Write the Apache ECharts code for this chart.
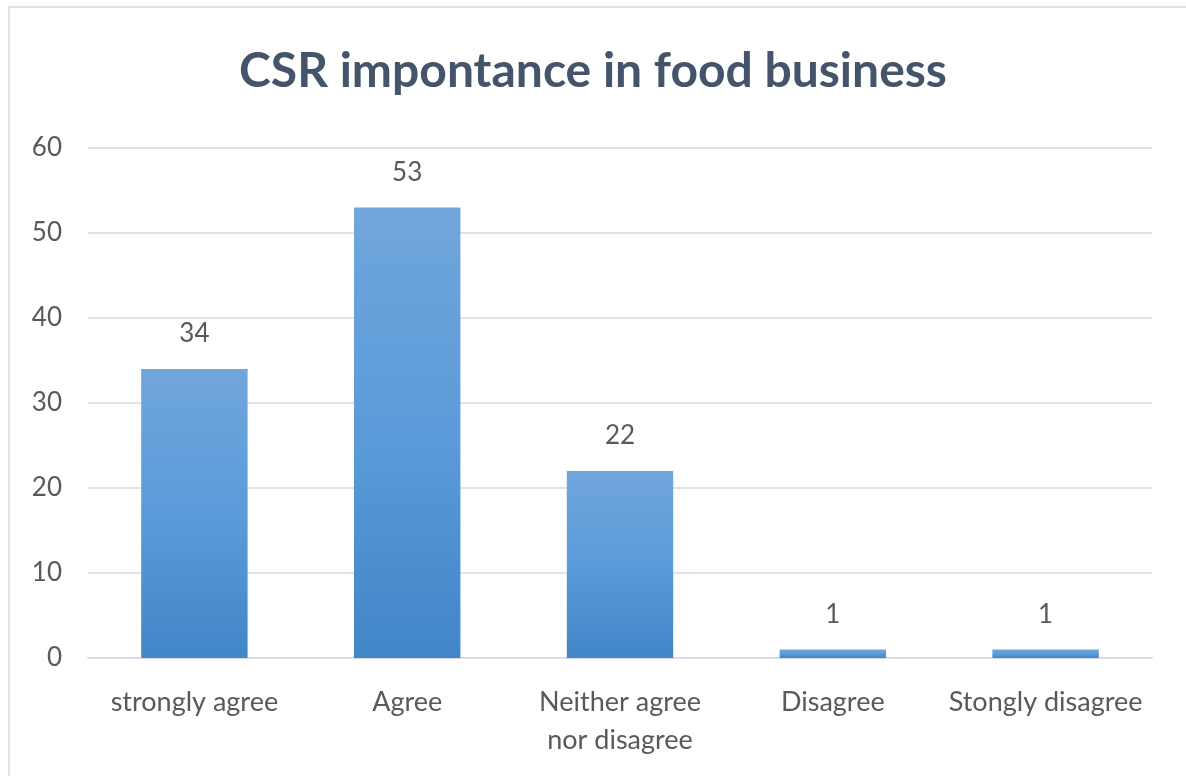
<!DOCTYPE html>
<html>
<head>
<meta charset="utf-8">
<script src="https://cdn.jsdelivr.net/npm/echarts@6/dist/echarts.min.js"></script>
<style>
  html, body { margin: 0; padding: 0; background: #ffffff; }
  #frame { position: absolute; left: 8px; top: 6px; width: 1190px; height: 780px; border: 2px solid #dfe3ea; box-sizing: border-box; }
  #chart { position: absolute; left: 0; top: 0; width: 1186px; height: 776px; }
</style>
</head>
<body>
<div id="frame"></div>
<div id="chart"></div>
<script>
// Survey answers and their counts
const categories = ['strongly agree', 'Agree', 'Neither agree\nnor disagree', 'Disagree', 'Stongly disagree'];
const counts = [34, 53, 22, 1, 1];
const yTicks = { min: 0, max: 60, interval: 10 };
const titleText = 'CSR impontance in food business';

const chart = echarts.init(document.getElementById('chart'), null, { renderer: 'canvas' });
const font = 'Lato, "Open Sans", "Noto Sans", sans-serif';

chart.setOption({
  animation: false,
  title: {
    text: titleText,
    left: 'center',
    top: 43,
    textStyle: { fontFamily: font, fontSize: 48, fontWeight: 'bold', color: '#44546a' }
  },
  grid: { left: 88, right: 34, top: 148, bottom: 118, containLabel: false },
  xAxis: {
    type: 'category',
    data: categories,
    axisLine: { lineStyle: { color: '#d9dde3', width: 2 } },
    axisTick: { show: false },
    axisLabel: { fontFamily: font, fontSize: 27, color: '#595959', margin: 25, lineHeight: 38, interval: 0 }
  },
  yAxis: {
    type: 'value',
    min: yTicks.min,
    max: yTicks.max,
    interval: yTicks.interval,
    axisLine: { show: false },
    axisTick: { show: false },
    splitLine: { lineStyle: { color: '#dfe3ea', width: 2 } },
    axisLabel: { fontFamily: font, fontSize: 26, color: '#595959', margin: 26 }
  },
  series: [{
    type: 'bar',
    data: counts,
    barWidth: '50%',
    itemStyle: {
      color: new echarts.graphic.LinearGradient(0, 0, 0, 1, [
        { offset: 0, color: '#70a6dc' },
        { offset: 0.5, color: '#5b9bd9' },
        { offset: 1, color: '#4186c8' }
      ])
    },
    label: {
      show: true,
      position: 'top',
      distance: 22,
      fontFamily: font,
      fontSize: 26,
      color: '#595959'
    }
  }]
});
</script>
</body>
</html>
